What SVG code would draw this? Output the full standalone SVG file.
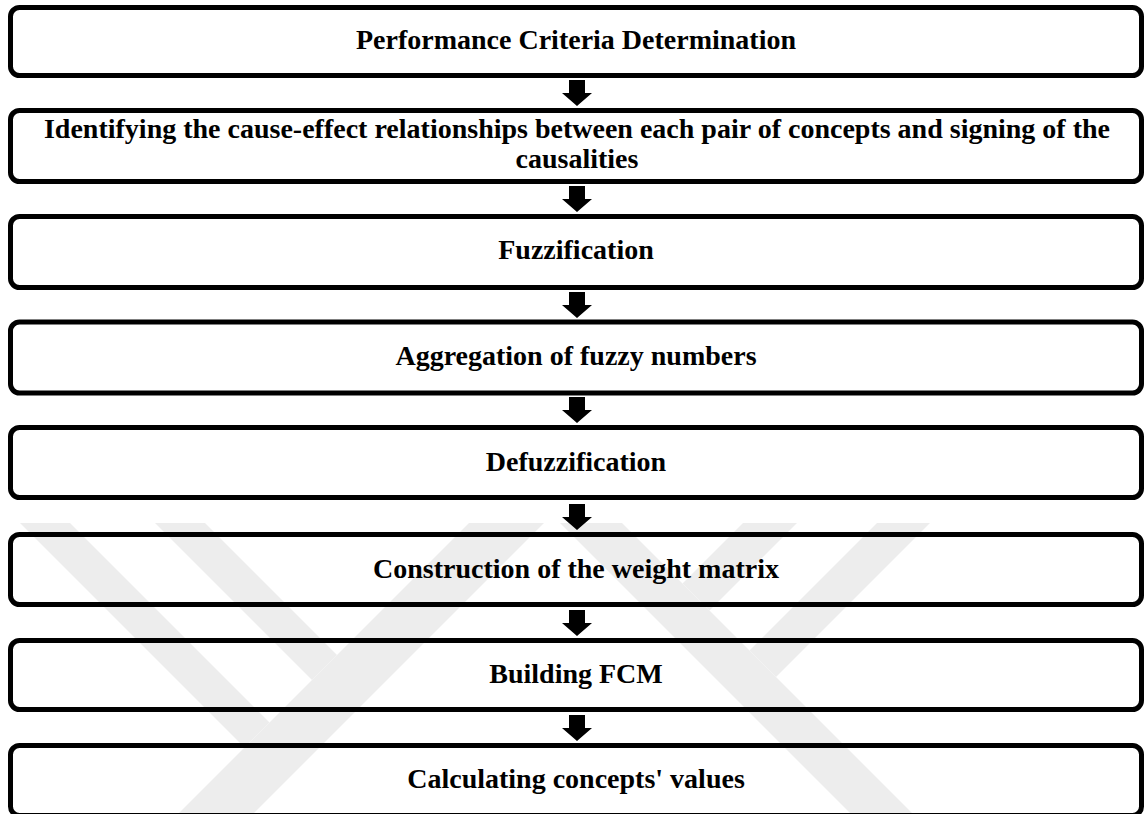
<svg xmlns="http://www.w3.org/2000/svg" width="1145" height="814" viewBox="0 0 1145 814">
  <style>
    .box { fill: none; stroke: #000; stroke-width: 5; }
    .label { font-family: "Liberation Serif", "Times New Roman", serif; font-weight: bold; font-size: 28px; fill: #000; text-anchor: middle; }
    .arrow { fill: #000; }
    .mark { fill: #ededed; }
  </style>
  <defs>
    <!-- block arrow pointing down, origin at top centre of the shaft -->
    <path id="down" d="M-8,0 H8 V13 H15 L0,26 L-15,13 H-8 Z"/>
  </defs>
  <rect width="1145" height="814" fill="#fff"/>

  <!-- faint background emblem -->
  <g id="emblem">
    <polygon class="mark" points="20,523 70,523 269.5,722.5 244.5,747.5"/>
    <polygon class="mark" points="155,523 205,523 337,655 312,680"/>
    <polygon class="mark" points="469,523 544,523 253,814 178,814"/>
    <polygon class="mark" points="877,523 930,523 776,677 749.5,650.5"/>
    <polygon class="mark" points="743,523 797,523 709.5,610.5 682.5,583.5"/>
    <polygon class="mark" points="560,523 622,523 913,814 851,814"/>
  </g>

  <g id="connectors">
    <use href="#down" class="arrow" x="577" y="80"/>
    <use href="#down" class="arrow" x="577" y="186"/>
    <use href="#down" class="arrow" x="577" y="292"/>
    <use href="#down" class="arrow" x="577" y="397"/>
    <use href="#down" class="arrow" x="577" y="504"/>
    <use href="#down" class="arrow" x="577" y="610"/>
    <use href="#down" class="arrow" x="577" y="715"/>
  </g>

  <g id="step1">
    <rect class="box" x="10.5" y="7.5" width="1131" height="68" rx="9"/>
    <text class="label" x="576" y="49">Performance Criteria Determination</text>
  </g>
  <g id="step2">
    <rect class="box" x="10.5" y="110.5" width="1131" height="71" rx="9"/>
    <text class="label" x="577" y="138">Identifying the cause-effect relationships between each pair of concepts and signing of the</text>
    <text class="label" x="577" y="168">causalities</text>
  </g>
  <g id="step3">
    <rect class="box" x="10.5" y="216.5" width="1131" height="71" rx="9"/>
    <text class="label" x="576" y="259">Fuzzification</text>
  </g>
  <g id="step4">
    <rect class="box" x="10.5" y="322" width="1131" height="71" rx="9"/>
    <text class="label" x="576" y="365">Aggregation of fuzzy numbers</text>
  </g>
  <g id="step5">
    <rect class="box" x="10.5" y="427.5" width="1131" height="70" rx="9"/>
    <text class="label" x="576" y="471">Defuzzification</text>
  </g>
  <g id="step6">
    <rect class="box" x="10.5" y="534.5" width="1131" height="70" rx="9"/>
    <text class="label" x="576" y="578">Construction of the weight matrix</text>
  </g>
  <g id="step7">
    <rect class="box" x="10.5" y="640.5" width="1131" height="69" rx="9"/>
    <text class="label" x="576" y="683">Building FCM</text>
  </g>
  <g id="step8">
    <rect class="box" x="10.5" y="745.5" width="1131" height="70" rx="9"/>
    <text class="label" x="576" y="787.5">Calculating concepts' values</text>
  </g>
</svg>
